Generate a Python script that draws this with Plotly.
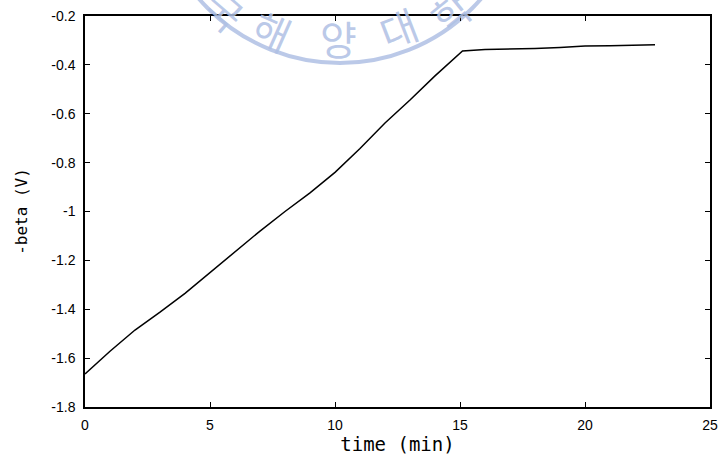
import plotly.graph_objects as go

# data
time_min = [0, 1, 2, 3, 4, 5, 6, 7, 8, 9, 10, 11, 12, 13, 14, 15.1,
            16, 17, 18, 19, 20, 21, 22, 22.8]
neg_beta = [-1.665, -1.572, -1.485, -1.412, -1.335, -1.25, -1.165, -1.08,
            -1.0, -0.924, -0.84, -0.742, -0.638, -0.544, -0.445, -0.343,
            -0.337, -0.336, -0.333, -0.329, -0.323, -0.322, -0.320, -0.318]

x_ticks = [0, 5, 10, 15, 20, 25]
y_ticks = [-1.8, -1.6, -1.4, -1.2, -1.0, -0.8, -0.6, -0.4, -0.2]
y_ticktext = ["-1.8", "-1.6", "-1.4", "-1.2", "-1", "-0.8", "-0.6", "-0.4", "-0.2"]

# watermark letters
wm_letters = ["국", "해", "양", "대", "학"]
wm_px = [224, 272, 338, 398, 450]
wm_py = [10, 30, 38, 28, 12]
wm_ang = [41, 24, 0, -21, -39]

W, H = 721, 461
L, R, T, B = 85, 11, 16, 54
pw, ph = W - L - R, H - T - B


def px2paper(x, y):
    return (x - L) / pw, (H - B - y) / ph


fig = go.Figure()
fig.add_trace(go.Scatter(x=time_min, y=neg_beta, mode="lines",
                         line=dict(color="black", width=1.5),
                         showlegend=False, hoverinfo="skip"))

wm_color = "rgba(175,192,228,0.85)"
cx, cy, r = 340, -124, 187
x0, y0 = px2paper(cx - r, cy + r)
x1, y1 = px2paper(cx + r, cy - r)
fig.add_shape(type="circle", xref="paper", yref="paper",
              x0=x0, y0=y0, x1=x1, y1=y1,
              line=dict(color=wm_color, width=4), layer="below")
for t, xx, yy, a in zip(wm_letters, wm_px, wm_py, wm_ang):
    px_, py_ = px2paper(xx, yy)
    fig.add_annotation(text=t, x=px_, y=py_, xref="paper", yref="paper",
                       showarrow=False, textangle=a,
                       font=dict(family="Noto Sans CJK KR", size=40, color=wm_color),
                       xanchor="center", yanchor="middle")

axis_common = dict(showline=True, linecolor="black", linewidth=1.5,
                   mirror="ticks", ticks="inside", ticklen=5, tickwidth=1,
                   tickcolor="black", showgrid=False, zeroline=False,
                   tickfont=dict(family="Liberation Sans, Arial", size=14, color="black"))

fig.update_xaxes(range=[0, 25], tickvals=x_ticks,
                 title=dict(text="time (min)",
                            font=dict(family="DejaVu Sans Mono", size=19, color="black"),
                            standoff=4),
                 ticklabelstandoff=4, automargin=False, **axis_common)
fig.update_yaxes(range=[-1.8, -0.2], tickvals=y_ticks, ticktext=y_ticktext,
                 title=dict(text="-beta (V)",
                            font=dict(family="DejaVu Sans Mono", size=16, color="black"),
                            standoff=20),
                 ticklabelstandoff=5, automargin=False, **axis_common)

fig.update_layout(width=W, height=H, margin=dict(l=L, r=R, t=T, b=B),
                  plot_bgcolor="rgba(0,0,0,0)", paper_bgcolor="white")

fig.write_html("out.html", config={"displayModeBar": False},
               post_script="document.body.style.margin='0px';document.body.style.overflow='hidden';")
